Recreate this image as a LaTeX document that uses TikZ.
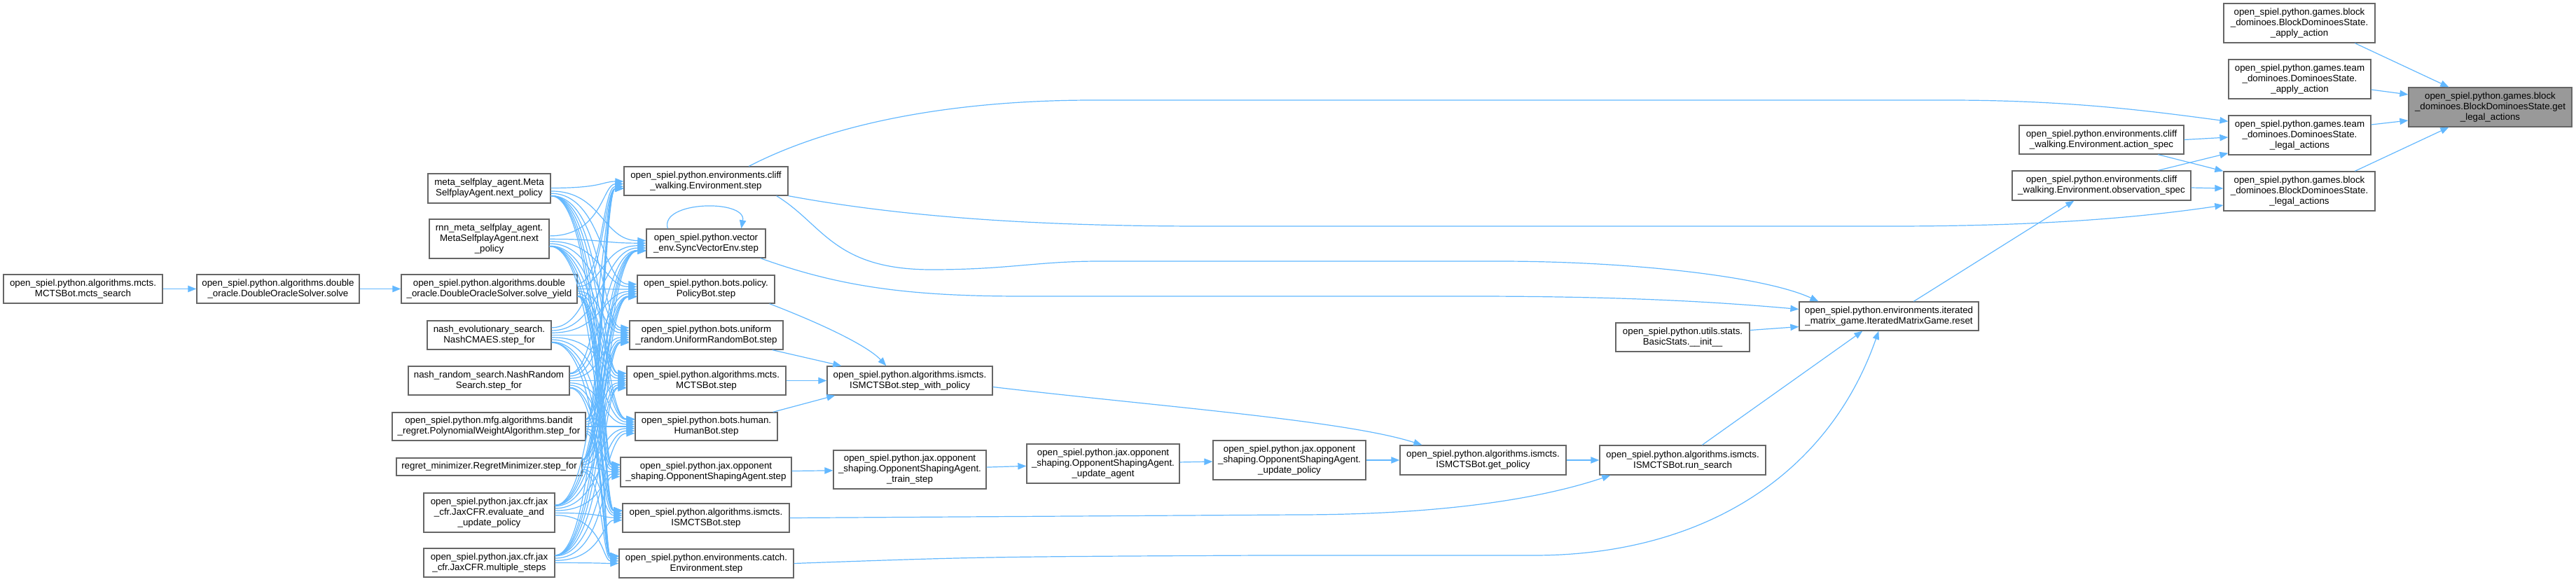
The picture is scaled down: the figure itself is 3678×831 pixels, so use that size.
\documentclass[tikz,border=0pt]{standalone}
\usepackage{fontspec}
\setmainfont{Liberation Sans}
\usetikzlibrary{arrows.meta,calc}
\definecolor{edgeblue}{HTML}{63B8FF}
\definecolor{nodeborder}{HTML}{666666}
\definecolor{focusfill}{HTML}{999999}
\newcommand{\gbox}[6][]{\node[box,#1,minimum width={(#4-#2)*0.75pt},minimum height={(#5-#3)*0.75pt}] (#6) at ({(#2+#4)/2},{(#3+#5)/2})}
\begin{document}
\begin{tikzpicture}[x=0.75pt,y=-0.75pt,
  box/.style={draw=nodeborder,line width=1pt,fill=white,inner sep=0pt,align=center,font=\fontsize{10}{11.25}\selectfont},
  edge/.style={draw=edgeblue,line width=0.9pt,-{Triangle[length=9pt,width=7pt]}}]
\useasboundingbox (0,0) rectangle (3678,831);
% column 0/1
\gbox{5}{392}{232}{433}{msearch}{open\_spiel.python.algorithms.mcts.\\MCTSBot.mcts\_search};
\gbox{281}{392}{513}{433}{dosolve}{open\_spiel.python.algorithms.double\\\_oracle.DoubleOracleSolver.solve};
% callers of step
\gbox{573}{392}{824}{433}{soly}{open\_spiel.python.algorithms.double\\\_oracle.DoubleOracleSolver.solve\_yield};
\gbox{611}{248}{786}{290}{meta}{meta\_selfplay\_agent.Meta\\SelfplayAgent.next\_policy};
\gbox{613}{313}{784}{369}{rnn}{rnn\_meta\_selfplay\_agent.\\MetaSelfplayAgent.next\\\_policy};
\gbox{610}{458}{787}{499}{nevo}{nash\_evolutionary\_search.\\NashCMAES.step\_for};
\gbox{583}{523}{813}{564}{nrand}{nash\_random\_search.NashRandom\\Search.step\_for};
\gbox{560}{589}{836}{629}{bandit}{open\_spiel.python.mfg.algorithms.bandit\\\_regret.PolynomialWeightAlgorithm.step\_for};
\gbox{566}{654}{831}{679}{regret}{regret\_minimizer.RegretMinimizer.step\_for};
\gbox{605}{704}{792}{760}{jeval}{open\_spiel.python.jax.cfr.jax\\\_cfr.JaxCFR.evaluate\_and\\\_update\_policy};
\gbox{605}{783}{792}{824}{jmulti}{open\_spiel.python.jax.cfr.jax\\\_cfr.JaxCFR.multiple\_steps};
% step methods
\gbox{891}{238}{1125}{279}{cliff}{open\_spiel.python.environments.cliff\\\_walking.Environment.step};
\gbox{923}{327}{1093}{368}{sync}{open\_spiel.python.vector\\\_env.SyncVectorEnv.step};
\gbox{910}{393}{1106}{433}{policy}{open\_spiel.python.bots.policy.\\PolicyBot.step};
\gbox{899}{458}{1118}{499}{uniform}{open\_spiel.python.bots.uniform\\\_random.UniformRandomBot.step};
\gbox{895}{523}{1122}{564}{mctsbot}{open\_spiel.python.algorithms.mcts.\\MCTSBot.step};
\gbox{907}{589}{1110}{629}{human}{open\_spiel.python.bots.human.\\HumanBot.step};
\gbox{886}{653}{1130}{695}{osstep}{open\_spiel.python.jax.opponent\\\_shaping.OpponentShapingAgent.step};
\gbox{889}{719}{1127}{760}{isstep}{open\_spiel.python.algorithms.ismcts.\\ISMCTSBot.step};
\gbox{884}{784}{1133}{825}{catch}{open\_spiel.python.environments.catch.\\Environment.step};
% further
\gbox{1181}{523}{1417}{564}{swp}{open\_spiel.python.algorithms.ismcts.\\ISMCTSBot.step\_with\_policy};
\gbox{1190}{643}{1408}{698}{train}{open\_spiel.python.jax.opponent\\\_shaping.OpponentShapingAgent.\\\_train\_step};
\gbox{1466}{634}{1684}{690}{uagent}{open\_spiel.python.jax.opponent\\\_shaping.OpponentShapingAgent.\\\_update\_agent};
\gbox{1732}{629}{1950}{685}{upolicy}{open\_spiel.python.jax.opponent\\\_shaping.OpponentShapingAgent.\\\_update\_policy};
\gbox{1999}{636}{2236}{678}{getpol}{open\_spiel.python.algorithms.ismcts.\\ISMCTSBot.get\_policy};
\gbox{2284}{636}{2521}{678}{runsearch}{open\_spiel.python.algorithms.ismcts.\\ISMCTSBot.run\_search};
\gbox{2307}{461}{2498}{502}{basic}{open\_spiel.python.utils.stats.\\BasicStats.\_\_init\_\_};
\gbox{2569}{431}{2825}{472}{reset}{open\_spiel.python.environments.iterated\\\_matrix\_game.IteratedMatrixGame.reset};
\gbox{2883}{179}{3118}{220}{aspec}{open\_spiel.python.environments.cliff\\\_walking.Environment.action\_spec};
\gbox{2873}{244}{3128}{286}{ospec}{open\_spiel.python.environments.cliff\\\_walking.Environment.observation\_spec};
\gbox{3175}{5}{3391}{61}{bapply}{open\_spiel.python.games.block\\\_dominoes.BlockDominoesState.\\\_apply\_action};
\gbox{3182}{85}{3385}{141}{tapply}{open\_spiel.python.games.team\\\_dominoes.DominoesState.\\\_apply\_action};
\gbox{3182}{165}{3385}{221}{tlegal}{open\_spiel.python.games.team\\\_dominoes.DominoesState.\\\_legal\_actions};
\gbox{3175}{245}{3391}{301}{blegal}{open\_spiel.python.games.block\\\_dominoes.BlockDominoesState.\\\_legal\_actions};
\gbox[fill=focusfill]{3439}{125}{3672}{181}{getlegal}{open\_spiel.python.games.block\\\_dominoes.BlockDominoesState.get\\\_legal\_actions};
% edges
\draw[edge] (msearch) -- (dosolve);
\draw[edge] (dosolve) -- (soly);
\foreach \src in {meta,rnn,soly,nevo,nrand,bandit,regret,jeval,jmulti}{
  \foreach \tgt in {cliff,sync,policy,uniform,mctsbot,human,osstep,isstep,catch}{
    \draw[edge] let \p1=(\src.east), \p2=(\tgt.west), \n1={max(-8,min(8,(\y2-\y1)*0.05))} in
      ({\x1},{\y1+(\n1)*1pt}) .. controls (645pt,{\y1+(\n1)*1pt}) and (645pt,{\y2-(\n1)*1pt}) .. ({\x2},{\y2-(\n1)*1pt});
  }
}
\draw[edge] ($(sync.north west)+(31,0)$) .. controls +(-12,-40) and +(8,-42) .. ($(sync.north west)+(136,0)$);
\draw[edge] ($(cliff.north west)+(179,0)$) .. controls (1200,170) and (1380,143) .. (1561,143) -- (2782,143) .. controls (2960,143) and (3080,160) .. ($(tlegal.north west)+(0,9)$);
\draw[edge] (cliff.south east) .. controls (1300,312) and (1500,323) .. (1720,323) -- (2700,323) .. controls (2920,323) and (3060,310) .. ($(blegal.west)+(0,20)$);
\draw[edge] ($(cliff.south east)+(-17,0)$) .. controls (1175,320) and (1190,385) .. (1330,385) .. controls (1440,385) and (1480,373) .. (1570,373) -- (2140,373) .. controls (2330,373) and (2520,395) .. ($(reset.north west)+(28,0)$);
\draw[edge] ($(sync.south east)+(-8,0)$) .. controls (1200,410) and (1300,423) .. (1460,423) -- (2100,423) .. controls (2330,423) and (2460,432) .. ($(reset.west)+(0,-10)$);
\draw[edge] ($(policy.south east)+(-8,0)$) .. controls (1180,465) and (1240,495) .. ($(swp.north west)+(85,0)$);
\draw[edge] ($(uniform.south east)+(-16,0)$) -- ($(swp.north west)+(21,0)$);
\draw[edge] (mctsbot) -- (swp);
\draw[edge] ($(human.north east)+(-7,0)$) -- ($(swp.south west)+(12,0)$);
\draw[edge] (osstep) -- (train);
\draw[edge] (train) -- (uagent);
\draw[edge] (uagent) -- (upolicy);
\draw[edge] (upolicy) -- (getpol);
\draw[edge] (getpol) -- (runsearch);
\draw[edge] ($(swp.east)+(0,9)$) .. controls (1650,580) and (1920,600) .. ($(getpol.north west)+(32,0)$);
\draw[edge] (isstep.east) -- (1850,735) .. controls (2060,735) and (2200,712) .. ($(runsearch.south west)+(16,0)$);
\draw[edge] (catch.east) .. controls (1400,795) .. (1800,793) -- (2190,793) .. controls (2430,793) and (2610,680) .. ($(reset.south west)+(114,0)$);
\draw[edge] ($(runsearch.north west)+(147,0)$) -- ($(reset.south west)+(91,0)$);
\draw[edge] ($(basic.east)+(0,-10)$) -- ($(reset.west)+(0,15)$);
\draw[edge] ($(reset.north west)+(164,0)$) -- ($(ospec.south west)+(89,0)$);
\draw[edge] ($(ospec.north west)+(209,0)$) -- ($(tlegal.south west)+(0,-3)$);
\draw[edge] ($(ospec.east)+(0,3)$) -- ($(blegal.west)+(0,-4)$);
\draw[edge] (aspec.east) -- ($(tlegal.west)+(0,3)$);
\draw[edge] ($(aspec.south west)+(199,0)$) -- (blegal.north west);
\draw[edge] ($(bapply.south west)+(188,0)$) -- ($(getlegal.north west)+(58,0)$);
\draw[edge] ($(tapply.east)+(0,15)$) -- ($(getlegal.west)+(0,-18)$);
\draw[edge] ($(tlegal.east)+(0,-15)$) -- ($(getlegal.west)+(0,19)$);
\draw[edge] ($(blegal.north west)+(188,0)$) -- ($(getlegal.south west)+(58,0)$);
\end{tikzpicture}
\end{document}
